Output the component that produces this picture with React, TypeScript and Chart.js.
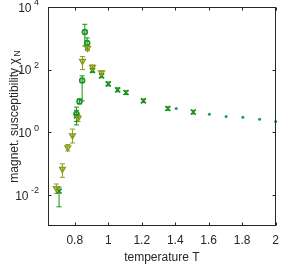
import React, { useEffect, useRef } from "react";
import { Chart, registerables } from "chart.js";
Chart.register(...registerables);

// ---- data ----
const xTickValues = [0.8, 1, 1.2, 1.4, 1.6, 1.8, 2];
const yTickValues = [1e-2, 1, 1e2, 1e4];
const yTickExponents = ["-2", "0", "2", "4"];

const oliveT = [0.69, 0.726, 0.758, 0.786, 0.82, 0.846, 0.876, 0.906, 0.96];
const oliveChi = [0.016, 0.066, 0.32, 0.78, 2.8, 185, 490, 120, 80];
const oliveLo = [0.011, 0.036, 0.25, 0.45, 2.2, 100, 400, 100, 70];
const oliveHi = [0.022, 0.097, 0.4, 1.25, 3.5, 260, 600, 140, 90];

const circleT = [0.81, 0.828, 0.844, 0.86, 0.874];
const circleChi = [3.8, 9.6, 45, 1600, 710];
const circleLo = [1.7, 8, 10, 570, 440];
const circleHi = [6.3, 11.5, 63, 2800, 1030];

const crossT = [0.706, 0.81, 0.906, 0.96, 1.0, 1.056, 1.106, 1.21, 1.356, 1.508];
const crossChi = [0.013, 3.3, 94, 63, 35, 22.5, 18.5, 10, 5.7, 4.4];
const crossLo = [0.0041, 2.2, 80, 55, 30, 19.5, 16, 8.8, 5.0, 3.8];
const crossHi = [0.0175, 5.0, 110, 72, 40, 26, 21, 11.4, 6.5, 5.0];

const dotT = [1.406, 1.604, 1.704, 1.804, 1.904, 2.0];
const dotChi = [5.7, 3.76, 3.17, 3.0, 2.6, 2.2];

const OLIVE = "#8f9a1c";
const GREEN = "#17921a";
const TEAL = "#12997f";
const AXIS = "#262626";
const FONT = "'Liberation Sans', Arial, sans-serif";

const toPts = (xs: number[], ys: number[]) => xs.map((x, i) => ({ x, y: ys[i] }));

const errorBars = {
  id: "errorBars",
  beforeDatasetsDraw(chart: any) {
    const { ctx } = chart;
    const xs = chart.scales.x;
    const ys = chart.scales.y;
    chart.data.datasets.forEach((ds: any) => {
      if (!ds.errLo) return;
      ctx.save();
      ctx.strokeStyle = ds.borderColor;
      ctx.lineWidth = 1;
      ds.data.forEach((p: any, i: number) => {
        const px = xs.getPixelForValue(p.x);
        const yl = ys.getPixelForValue(ds.errLo[i]);
        const yh = ys.getPixelForValue(ds.errHi[i]);
        ctx.beginPath();
        ctx.moveTo(px, yl);
        ctx.lineTo(px, yh);
        ctx.moveTo(px - 2.5, yl);
        ctx.lineTo(px + 2.5, yl);
        ctx.moveTo(px - 2.5, yh);
        ctx.lineTo(px + 2.5, yh);
        ctx.stroke();
      });
      ctx.restore();
    });
  },
};

const frame = {
  id: "frame",
  afterDraw(chart: any) {
    const { ctx, chartArea: a } = chart;
    const xs = chart.scales.x;
    const ys = chart.scales.y;
    ctx.save();
    ctx.strokeStyle = AXIS;
    ctx.lineWidth = 1;
    const L = Math.round(a.left) + 0.5;
    const R = Math.round(a.right) - 0.5;
    const T = Math.round(a.top) + 0.5;
    const B = Math.round(a.bottom) - 0.5;
    ctx.strokeRect(L, T, R - L, B - T);
    ctx.beginPath();
    xTickValues.forEach((v) => {
      const px = Math.round(xs.getPixelForValue(v)) + 0.5;
      ctx.moveTo(px, B);
      ctx.lineTo(px, B - 3);
      ctx.moveTo(px, T);
      ctx.lineTo(px, T + 3);
    });
    yTickValues.forEach((v) => {
      const py = Math.round(ys.getPixelForValue(v)) + 0.5;
      ctx.moveTo(L, py);
      ctx.lineTo(L + 3, py);
      ctx.moveTo(R, py);
      ctx.lineTo(R - 3, py);
    });
    ctx.stroke();

    // y tick labels 10^n
    ctx.fillStyle = AXIS;
    yTickValues.forEach((v, i) => {
      const py = ys.getPixelForValue(v);
      ctx.font = `9px ${FONT}`;
      const ew = ctx.measureText(yTickExponents[i]).width;
      const expRight = 39;
      ctx.textAlign = "right";
      ctx.textBaseline = "middle";
      ctx.fillText(yTickExponents[i], expRight, py - 4);
      ctx.font = `12px ${FONT}`;
      ctx.fillText("10", expRight - ew - 2.5, py + 1.5);
    });

    // y title
    const cy = (a.top + a.bottom) / 2;
    ctx.save();
    ctx.translate(18, cy);
    ctx.rotate(-Math.PI / 2);
    ctx.font = `12px ${FONT}`;
    const main = "magnet. susceptibility \u03c7";
    const mw = ctx.measureText(main).width;
    ctx.font = `9px ${FONT}`;
    const sw = ctx.measureText("N").width;
    const total = mw + sw + 1.5;
    ctx.textAlign = "left";
    ctx.textBaseline = "alphabetic";
    ctx.font = `12px ${FONT}`;
    ctx.fillText(main, -total / 2, 0);
    ctx.font = `9px ${FONT}`;
    ctx.fillText("N", -total / 2 + mw + 1.5, 2);
    ctx.restore();
    ctx.restore();
  },
};

export default function App() {
  const ref = useRef<HTMLCanvasElement>(null);
  useEffect(() => {
    if (!ref.current) return;
    const chart = new Chart(ref.current, {
      type: "scatter",
      data: {
        datasets: [
          {
            label: "olive",
            data: toPts(oliveT, oliveChi),
            errLo: oliveLo,
            errHi: oliveHi,
            borderColor: OLIVE,
            backgroundColor: "rgba(143,154,28,0.25)",
            pointStyle: "triangle",
            rotation: 180,
            pointRadius: 3.2,
            borderWidth: 1.5,
          } as any,
          {
            label: "circles",
            data: toPts(circleT, circleChi),
            errLo: circleLo,
            errHi: circleHi,
            borderColor: GREEN,
            backgroundColor: "rgba(23,146,26,0.25)",
            pointStyle: "circle",
            pointRadius: 2.5,
            borderWidth: 1.5,
          } as any,
          {
            label: "crosses",
            data: toPts(crossT, crossChi),
            errLo: crossLo,
            errHi: crossHi,
            borderColor: GREEN,
            backgroundColor: GREEN,
            pointStyle: "crossRot",
            pointRadius: 3.5,
            borderWidth: 1.6,
          } as any,
          {
            label: "dots",
            data: toPts(dotT, dotChi),
            borderColor: TEAL,
            backgroundColor: TEAL,
            pointStyle: "circle",
            pointRadius: 1.5,
            borderWidth: 0,
          } as any,
        ],
      },
      options: {
        animation: false,
        responsive: true,
        maintainAspectRatio: false,
        clip: false as any,
        layout: { padding: { left: 8, right: 10, top: 7, bottom: 0 } },
        plugins: { legend: { display: false }, tooltip: { enabled: false } },
        scales: {
          x: {
            type: "linear",
            min: 0.64,
            max: 2,
            grid: { display: false, drawTicks: false },
            border: { display: false },
            afterBuildTicks: (s: any) => {
              s.ticks = xTickValues.map((value) => ({ value }));
            },
            afterFit: (s: any) => {
              s.height = 40;
            },
            ticks: {
              color: AXIS,
              font: { family: FONT, size: 12 },
              padding: 7,
              maxRotation: 0,
              autoSkip: false,
              callback: (v: any) => String(v),
            },
            title: {
              display: true,
              text: "temperature T",
              color: AXIS,
              font: { family: FONT, size: 12 },
              padding: { top: 0, bottom: 1.5 },
            },
          },
          y: {
            type: "logarithmic",
            min: 1e-3,
            max: 1e4,
            grid: { display: false, drawTicks: false },
            border: { display: false },
            afterBuildTicks: (s: any) => {
              s.ticks = yTickValues.map((value) => ({ value }));
            },
            afterFit: (s: any) => {
              s.width = 40;
            },
            ticks: { display: false },
          },
        },
      },
      plugins: [errorBars, frame],
    });
    return () => chart.destroy();
  }, []);
  return (
    <div style={{ position: "absolute", left: 0, top: 0, width: 286, height: 266, background: "#fff" }}>
      <canvas ref={ref} />
    </div>
  );
}
